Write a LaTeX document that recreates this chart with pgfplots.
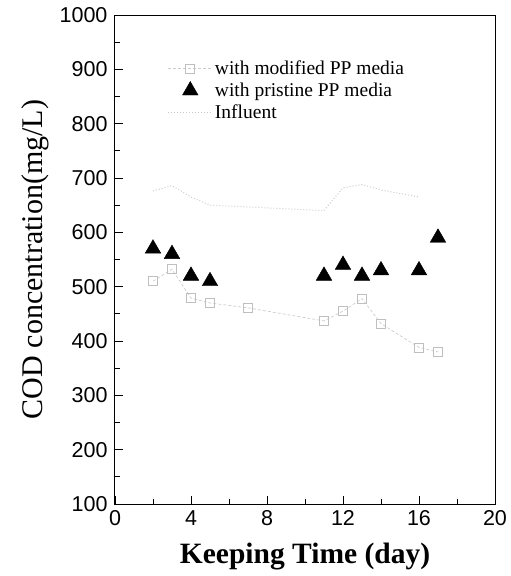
\documentclass[border=0pt]{standalone}
\usepackage{pgfplots}
\pgfplotsset{compat=1.18}
\usepackage{fontspec}
\setmainfont{Liberation Serif}
\setsansfont{Liberation Sans}

\begin{document}
\begin{tikzpicture}
\begin{axis}[
  scale only axis, width=380pt, height=489pt,
  xmin=0, xmax=20, ymin=100, ymax=1000,
  xtick={0,4,8,12,16,20}, ytick={100,200,...,1000},
  minor x tick num=1, minor y tick num=1,
  tick align=inside, tick pos=left,
  tickwidth=8pt, subtickwidth=5pt,
  axis line style={line width=1pt},
  tick style={line width=0.9pt, black},
  /pgf/number format/1000 sep={},
  /pgf/number format/assume math mode=true,
  ticklabel style={font=\fontsize{21.5}{21.5}\selectfont\sffamily},
  xticklabel style={yshift=-3pt},
  yticklabel style={xshift=-4pt},
  xlabel={\textbf{Keeping Time (day)}},
  xlabel style={font=\fontsize{29.5}{29.5}\selectfont, yshift=-10pt},
  ylabel={COD concentration(mg/L)},
  ylabel style={font=\fontsize{30}{30}\selectfont, yshift=4pt},
  legend style={draw=none, fill=none, at={(0.13,0.915)}, anchor=north west,
    font=\fontsize{19.5}{19.5}\selectfont, row sep=3pt,
    /tikz/every even column/.append style={column sep=3pt}},
  legend cell align=left,
  legend image code/.code={
    \draw[#1, mark repeat=2, mark phase=2] plot coordinates {(0cm,0cm) (0.78cm,0cm) (1.56cm,0cm)};},
]
\addplot[gray!40, densely dashed, line width=0.7pt, mark=square, mark size=4.5pt,
  mark options={solid, gray!50}] coordinates {
  (2,510) (3,532) (4,479) (5,470) (7,461) (11,437) (12,455) (13,478) (14,432) (16,388) (17,380)
};
\addlegendentry{with modified PP media}
\addplot[only marks, mark=triangle*, mark size=9pt, black] coordinates {
  (2,570) (3,560) (4,520) (5,510) (11,520) (12,540) (13,520) (14,530) (16,530) (17,590)
};
\addlegendentry{with pristine PP media}
\addplot[gray!40, dotted, line width=1pt] coordinates {
  (2,676) (3,686) (4,665) (5,650) (11,640) (12,682) (13,688) (14,678) (16,665)
};
\addlegendentry{Influent}
\end{axis}
\useasboundingbox (-115pt,-72pt) rectangle (391pt,504pt);
\end{tikzpicture}
\end{document}
